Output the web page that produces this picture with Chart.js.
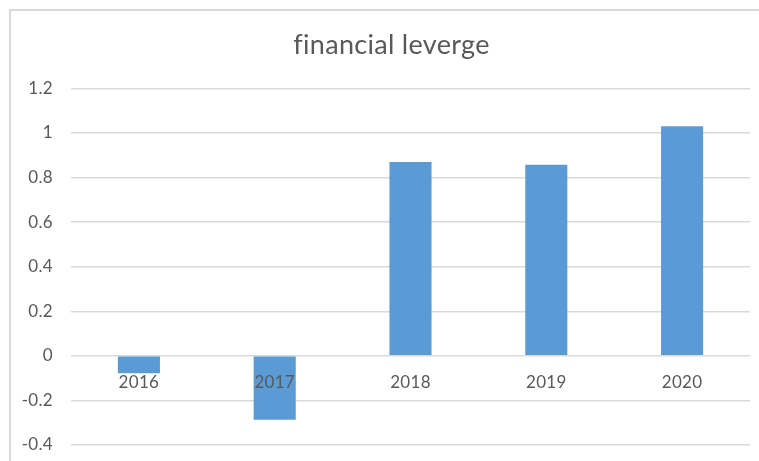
<!DOCTYPE html>
<html>
<head>
<meta charset="utf-8">
<script src="https://cdn.jsdelivr.net/npm/chart.js@4"></script>
<style>
  html, body { margin: 0; padding: 0; background: #fff; }
  body { width: 759px; height: 461px; position: relative; overflow: hidden; }
  #frame { position: absolute; left: 9px; top: 9px; width: 900px; height: 600px; border: 2px solid #d9d9d9; box-sizing: border-box; }
  #wrap { position: absolute; left: 0; top: 0; width: 759px; height: 461px; }
</style>
</head>
<body>
<div id="frame"></div>
<div id="wrap"><canvas id="c" width="759" height="461"></canvas></div>
<script>
const chartTitle = "financial leverge";
const categories = ["2016", "2017", "2018", "2019", "2020"];
const leverage = [-0.078, -0.287, 0.87, 0.857, 1.03];
const yTicks = [-0.4, -0.2, 0, 0.2, 0.4, 0.6, 0.8, 1, 1.2];

const textColor = "#595959";
const gridColor = "#d9d9d9";
const barColor = "#5b9bd5";
const fontFamily = "Lato, 'Open Sans', sans-serif";

const tweaks = {
  id: "tweaks",
  afterLayout(chart) {
    // title is centred on the whole (wider) chart frame, as in the original
    if (chart.titleBlock) chart.titleBlock.left = 33;
  },
  beforeDraw(chart) { chart.ctx.letterSpacing = "0.3px"; }
};

new Chart(document.getElementById("c"), {
  type: "bar",
  data: {
    labels: categories,
    datasets: [{
      data: leverage,
      backgroundColor: barColor,
      borderWidth: 0,
      categoryPercentage: 1,
      barPercentage: 0.31
    }]
  },
  plugins: [tweaks],
  options: {
    responsive: false,
    animation: false,
    devicePixelRatio: 1,
    layout: { padding: { left: 0, right: 9, top: 10, bottom: 16 } },
    plugins: {
      legend: { display: false },
      tooltip: { enabled: false },
      title: {
        display: true,
        text: chartTitle,
        color: textColor,
        font: { family: fontFamily, size: 27, weight: "normal" },
        padding: { top: 19, bottom: 27 }
      }
    },
    scales: {
      x: {
        type: "category",
        position: { y: 0 },
        afterFit: (scale) => { scale.height = 0; },
        grid: { display: false, drawTicks: false },
        border: { display: false },
        ticks: {
          z: 1,
          color: textColor,
          font: { family: fontFamily, size: 17 },
          padding: 16,
          maxRotation: 0
        }
      },
      y: {
        min: -0.4,
        max: 1.2,
        afterBuildTicks: (scale) => { scale.ticks = yTicks.map(v => ({ value: v })); },
        afterFit: (scale) => { scale.width = 71; },
        grid: { color: gridColor, lineWidth: 1.5, drawTicks: true, tickLength: 18, tickColor: "rgba(0,0,0,0)" },
        border: { display: false },
        ticks: {
          color: textColor,
          font: { family: fontFamily, size: 17 },
          padding: 0,
          callback: (v) => String(Math.round(v * 10) / 10)
        }
      }
    }
  }
});
</script>
</body>
</html>
